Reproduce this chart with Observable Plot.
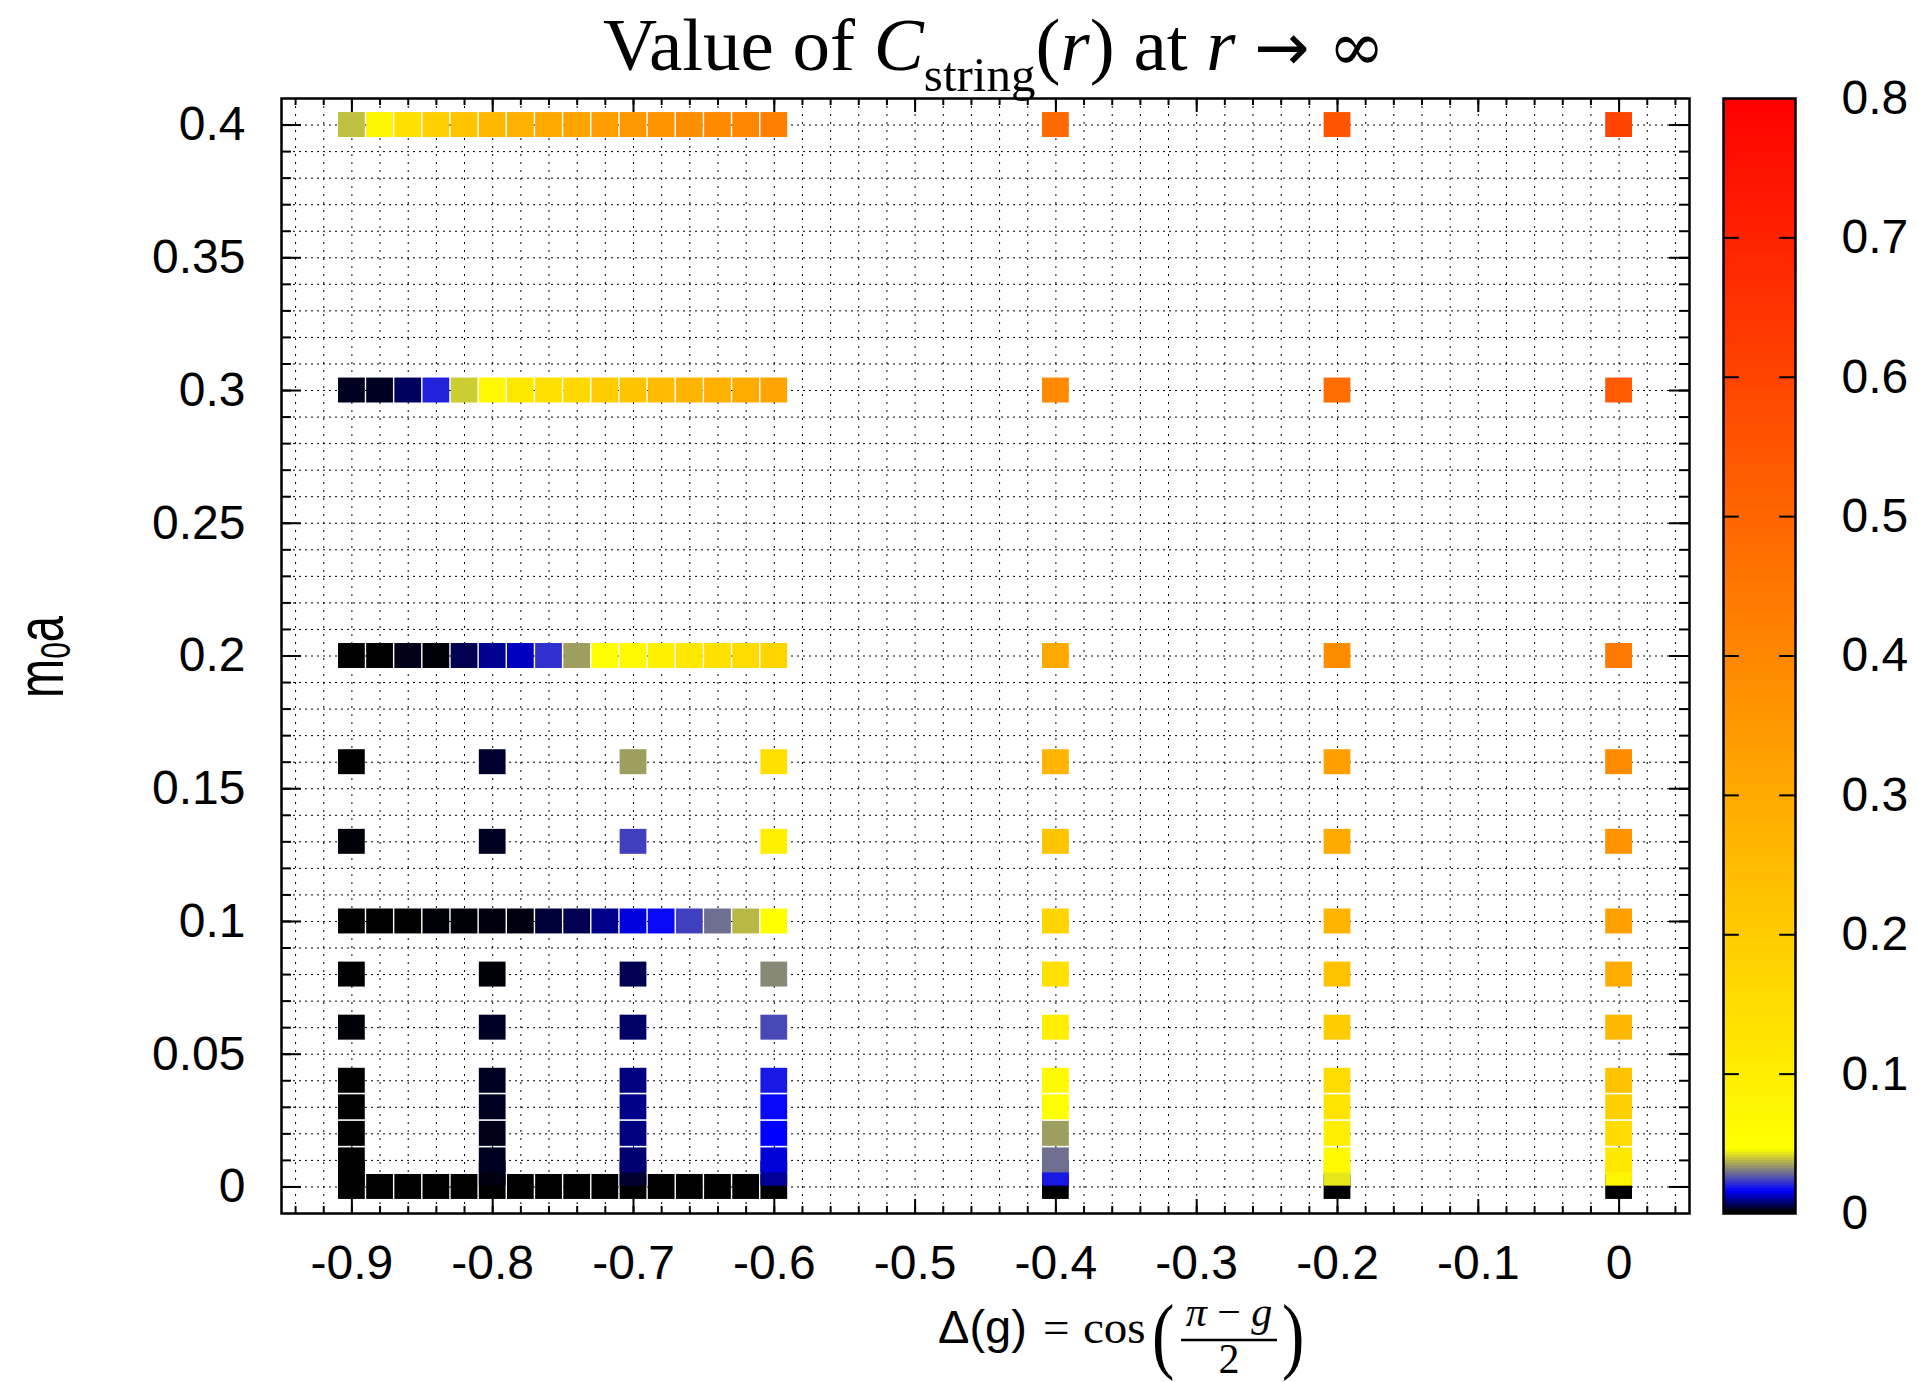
<!DOCTYPE html>
<html>
<head>
<meta charset="utf-8">
<script src="https://cdn.jsdelivr.net/npm/d3@7"></script>
<script src="https://cdn.jsdelivr.net/npm/@observablehq/plot@0.6"></script>
<style>
  html, body { margin: 0; padding: 0; background: #fff; }
  #wrap { position: relative; width: 1919px; height: 1382px; overflow: hidden; background: #fff; }
  #main { position: absolute; left: 0; top: 0; }
  #cbar { position: absolute; left: 1700px; top: 0; }
  #labels { position: absolute; left: 0; top: 0; pointer-events: none; }
</style>
</head>
<body>
<div id="wrap">
  <div id="main"></div>
  <div id="cbar"></div>
  <svg id="labels" width="1919" height="1382" xmlns="http://www.w3.org/2000/svg">
    <text x="994" y="70" text-anchor="middle" font-family="'Liberation Serif', 'Times New Roman', serif" font-size="75" fill="#000">Value of <tspan font-style="italic">C</tspan><tspan font-size="49" dy="21">string</tspan><tspan dy="-21">(</tspan><tspan font-style="italic">r</tspan>) at <tspan font-style="italic">r</tspan> <tspan font-family="'DejaVu Sans', sans-serif" font-size="66">→</tspan> <tspan font-family="'DejaVu Serif', serif" font-size="68">∞</tspan></text>
    <text transform="translate(63,657) rotate(-90) scale(1,1.4)" text-anchor="middle" font-family="'Liberation Sans', Arial, sans-serif" font-size="47" fill="#000">m<tspan font-size="30" dy="5">0</tspan><tspan dy="-5">a</tspan></text>
    <text x="938" y="1343" font-family="'Liberation Sans', Arial, sans-serif" font-size="47" fill="#000">Δ(g)</text>
    <text x="1043" y="1343" font-family="'Liberation Serif', 'Times New Roman', serif" font-size="47" fill="#000">=</text>
    <text x="1083" y="1343" font-family="'Liberation Serif', 'Times New Roman', serif" font-size="47" fill="#000">cos</text>
    <text x="1152" y="1363" font-family="'Liberation Serif', 'Times New Roman', serif" font-size="84" fill="#000" transform="translate(1152,0) scale(0.8,1) translate(-1152,0)">(</text>
    <text x="1229" y="1326" text-anchor="middle" font-family="'Liberation Serif', 'Times New Roman', serif" font-size="42" fill="#000"><tspan font-style="italic">π</tspan> − <tspan font-style="italic">g</tspan></text>
    <line x1="1181" x2="1277" y1="1340" y2="1340" stroke="#000" stroke-width="2.5"/>
    <text x="1229" y="1373" text-anchor="middle" font-family="'Liberation Serif', 'Times New Roman', serif" font-size="42" fill="#000">2</text>
    <text x="1282" y="1363" font-family="'Liberation Serif', 'Times New Roman', serif" font-size="84" fill="#000" transform="translate(1282,0) scale(0.8,1) translate(-1282,0)">)</text>
  </svg>
</div>
<script>
// ---------------- data ----------------
// full rows: x from -0.9 to -0.6 in steps of 0.02
const xRow = [-0.9, -0.88, -0.86, -0.84, -0.82, -0.8, -0.78, -0.76, -0.74, -0.72, -0.7, -0.68, -0.66, -0.64, -0.62, -0.6];
const row040 = [0.0375, 0.075, 0.137, 0.184, 0.22, 0.255, 0.279, 0.297, 0.314, 0.332, 0.35, 0.362, 0.379, 0.392, 0.403, 0.421];
const row030 = [0.002, 0.002, 0.0056, 0.019, 0.039, 0.066, 0.113, 0.137, 0.16, 0.196, 0.22, 0.243, 0.267, 0.279, 0.291, 0.314];
const row020 = [0, 0, 0.0014, 0.0005, 0.0047, 0.0085, 0.0113, 0.0207, 0.0336, 0.045, 0.066, 0.0894, 0.113, 0.137, 0.149, 0.172];
const row010 = [0, 0, 0, 0.0005, 0.0005, 0.0009, 0.001, 0.0033, 0.0047, 0.008, 0.013, 0.016, 0.0225, 0.028, 0.0366, 0.046];
const row000 = [0, 0, 0, 0, 0, 0, 0, 0, 0, 0, 0, 0, 0, 0, 0, 0];
const rowY = [0.4, 0.3, 0.2, 0.1, 0];

// sparse columns for x = -0.9, -0.8, -0.7, -0.6
const ySparse = [0.005, 0.01, 0.02, 0.03, 0.04, 0.06, 0.08, 0.13, 0.16];
const colM090 = [0, 0, 0, 0, 0, 0.0005, 0.0002, 0.0005, 0];
const colM080 = [0.001, 0.0019, 0.0014, 0.002, 0.002, 0.0023, 0.0005, 0.002, 0.0028];
const colM070 = [0.0028, 0.0066, 0.0075, 0.008, 0.0075, 0.006, 0.0047, 0.0225, 0.0336];
const colM060 = [0.009, 0.0127, 0.015, 0.016, 0.0178, 0.0235, 0.031, 0.089, 0.137];
const xSparse = [-0.9, -0.8, -0.7, -0.6];

// right-hand columns for x = -0.4, -0.2, 0
const yRight = [0, 0.005, 0.01, 0.02, 0.03, 0.04, 0.06, 0.08, 0.1, 0.13, 0.16, 0.2, 0.3, 0.4];
const colM040 = [0, 0.018, 0.028, 0.0336, 0.045, 0.06, 0.095, 0.137, 0.172, 0.22, 0.267, 0.297, 0.392, 0.486];
const colM020 = [0, 0.042, 0.066, 0.095, 0.125, 0.149, 0.196, 0.226, 0.267, 0.297, 0.326, 0.385, 0.48, 0.548];
const col000  = [0, 0.078, 0.113, 0.149, 0.184, 0.22, 0.255, 0.291, 0.326, 0.362, 0.385, 0.445, 0.534, 0.599];
const xRight = [-0.4, -0.2, 0];

// axes
const xTicks = [-0.9, -0.8, -0.7, -0.6, -0.5, -0.4, -0.3, -0.2, -0.1, 0];
const yTicks = [0, 0.05, 0.1, 0.15, 0.2, 0.25, 0.3, 0.35, 0.4];
const cbTicks = [0, 0.1, 0.2, 0.3, 0.4, 0.5, 0.6, 0.7, 0.8];

// palette: black -> blue -> yellow -> red
const paletteStops = [0, 0.015, 0.045, 0.8];
const paletteColors = ["#000000", "#0000ff", "#ffff00", "#ff0000"];

// ---------------- build table ----------------
const cells = [];
[row040, row030, row020, row010, row000].forEach((row, r) => {
  row.forEach((v, i) => cells.push({x: xRow[i], y: rowY[r], v}));
});
[colM090, colM080, colM070, colM060].forEach((col, c) => {
  col.forEach((v, j) => cells.push({x: xSparse[c], y: ySparse[j], v}));
});
[colM040, colM020, col000].forEach((col, c) => {
  col.forEach((v, j) => cells.push({x: xRight[c], y: yRight[j], v}));
});
const cellsSorted = d3.sort(cells, d => d.y);

const xMinor = d3.range(-47, 3).map(i => i / 50);
const xMajor = xTicks;
const yMinor = d3.range(0, 41).map(i => i / 100);
const yMajor = yTicks;

const color = {type: "linear", domain: paletteStops, range: paletteColors, interpolate: "rgb"};
const fontStyle = {fontFamily: "'Liberation Sans', Arial, sans-serif", fontSize: "48px", color: "#000", background: "transparent", overflow: "visible"};

const W = 1700, H = 1382, mL = 281, mR = 11, mT = 98, mB = 169;
const fw = W - mL - mR, fh = H - mT - mB;

const main = Plot.plot({
  width: W, height: H,
  marginLeft: mL, marginRight: mR, marginTop: mT, marginBottom: mB,
  x: {domain: [-0.95, 0.05], ticks: xTicks, tickFormat: d => String(d), tickSize: 0, tickPadding: 31, label: null},
  y: {domain: [-0.01, 0.41], ticks: yTicks, tickFormat: d => String(d), tickSize: 0, tickPadding: 36, label: null},
  color,
  style: fontStyle,
  marks: [
    Plot.ruleY(yMinor, {y: d => d, stroke: "#000", strokeWidth: 1, strokeDasharray: "2,4"}),
    Plot.ruleX(xMinor, {x: d => d, stroke: "#000", strokeWidth: 1, strokeDasharray: "2,6"}),
    Plot.rect(cellsSorted, {
      x1: d => d.x - 0.0095, x2: d => d.x + 0.0095,
      y1: d => d.y - 0.0047, y2: d => d.y + 0.0047,
      fill: "v"
    }),
    // inward ticks, bottom and top
    Plot.tickX(xMinor, {x: d => d, insetTop: fh - 7, stroke: "#000", strokeWidth: 2}),
    Plot.tickX(xMajor, {x: d => d, insetTop: fh - 14, stroke: "#000", strokeWidth: 2}),
    Plot.tickX(xMinor, {x: d => d, insetBottom: fh - 7, stroke: "#000", strokeWidth: 2}),
    Plot.tickX(xMajor, {x: d => d, insetBottom: fh - 14, stroke: "#000", strokeWidth: 2}),
    // inward ticks, left and right
    Plot.tickY(yMinor, {y: d => d, insetRight: fw - 10, stroke: "#000", strokeWidth: 2}),
    Plot.tickY(yMajor, {y: d => d, insetRight: fw - 20, stroke: "#000", strokeWidth: 2}),
    Plot.tickY(yMinor, {y: d => d, insetLeft: fw - 10, stroke: "#000", strokeWidth: 2}),
    Plot.tickY(yMajor, {y: d => d, insetLeft: fw - 20, stroke: "#000", strokeWidth: 2}),
    Plot.frame({stroke: "#000", strokeWidth: 2.5})
  ]
});
document.getElementById("main").appendChild(main);

// ---------------- colour bar ----------------
const ramp = d3.range(0, 0.8, 0.002);
const cb = Plot.plot({
  width: 219, height: H,
  marginLeft: 23, marginRight: 124, marginTop: mT, marginBottom: mB,
  x: {domain: [0, 1], axis: null},
  y: {domain: [0, 0.8], ticks: cbTicks, tickFormat: d => String(d), tickSize: 0, tickPadding: 46, axis: "right", label: null},
  color,
  style: fontStyle,
  marks: [
    Plot.rect(ramp, {x1: 0, x2: 1, y1: d => d, y2: d => Math.min(0.8, d + 0.0028), fill: d => d}),
    Plot.ruleY(cbTicks.slice(1, -1), {x1: 0, x2: 0.22, stroke: "#000", strokeWidth: 2}),
    Plot.ruleY(cbTicks.slice(1, -1), {x1: 0.78, x2: 1, stroke: "#000", strokeWidth: 2}),
    Plot.frame({stroke: "#000", strokeWidth: 2.5})
  ]
});
document.getElementById("cbar").appendChild(cb);
</script>
</body>
</html>
